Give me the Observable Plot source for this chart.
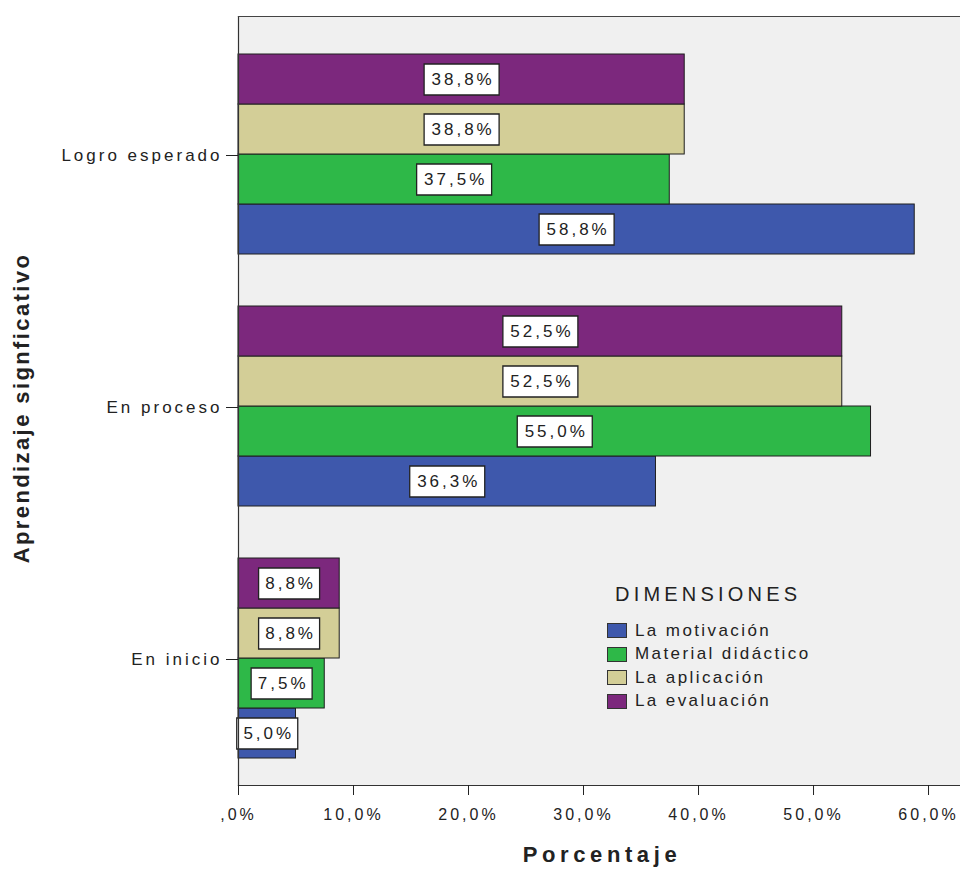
<!DOCTYPE html>
<html>
<head>
<meta charset="utf-8">
<script src="https://cdn.jsdelivr.net/npm/d3@7"></script>
<script src="https://cdn.jsdelivr.net/npm/@observablehq/plot@0.6"></script>
<style>
  html, body { margin: 0; padding: 0; background: #fff; overflow: hidden; }
  #wrap { position: relative; width: 960px; height: 870px; font-family: "Liberation Sans", Arial, sans-serif; color: #222; }
  #wrap svg text { letter-spacing: 3px; }
  .ytitle { position: absolute; left: 22px; top: 408px; transform: translate(-50%, -50%) rotate(-90deg); font-weight: bold; font-size: 22px; letter-spacing: 2.4px; white-space: nowrap; }
  .xtitle { position: absolute; left: 602px; top: 842px; transform: translateX(-50%); font-weight: bold; font-size: 22px; letter-spacing: 4.6px; white-space: nowrap; }
  .legend { position: absolute; left: 607px; top: 579px; }
  .legend .ttl { font-size: 20px; letter-spacing: 4.2px; margin-left: 8px; line-height: 30px; margin-bottom: 10px; }
  .legend .row { display: flex; align-items: center; height: 23.5px; font-size: 17px; letter-spacing: 2.4px; }
  .legend .sw { width: 18px; height: 13px; border: 1.5px solid #333; margin-right: 8px; }
</style>
</head>
<body>
<div id="wrap"></div>
<script>
const categories = ["Logro esperado", "En proceso", "En inicio"];
const dimensions = ["La motivación", "Material didáctico", "La aplicación", "La evaluación"];
const colors = ["#3E58AC", "#2EB848", "#D3CE97", "#7C287D"];
const motivacion = [58.8, 36.3, 5.0];
const material = [37.5, 55.0, 7.5];
const aplicacion = [38.8, 52.5, 8.8];
const evaluacion = [38.8, 52.5, 8.8];
const xTicks = [0, 10, 20, 30, 40, 50, 60];
const xTitle = "Porcentaje";
const yTitle = "Aprendizaje signficativo";
const legendTitle = "DIMENSIONES";

const seriesValues = [motivacion, material, aplicacion, evaluacion];
const fmtPct = v => { const s = v.toFixed(1).replace(".", ","); return (s.startsWith("0,") ? s.slice(1) : s) + "%"; };
const data = dimensions.flatMap((dim, i) => categories.map((cat, j) => {
  const v = seriesValues[i][j];
  return {cat, dim, v, label: fmtPct(v)};
}));

// rectangular label box symbol: width taken from the dot's r, fixed height
const labelBox = {
  draw(context, size) {
    const w = Math.sqrt(size / Math.PI);
    context.rect(-w / 2, -15.5, w, 31);
  }
};

const chart = Plot.plot({
  width: 960, height: 870,
  marginTop: 15, marginBottom: 85, marginLeft: 238, marginRight: 0,
  style: {fontFamily: '"Liberation Sans", Arial, sans-serif', fontSize: "17px", color: "#222", background: "white"},
  x: {domain: [0, 62.78], label: null},
  y: {domain: [...dimensions].reverse(), padding: 0, insetTop: 25, insetBottom: 27, axis: null},
  fy: {domain: categories, padding: 0, insetTop: 13, label: null},
  r: {type: "identity"},
  color: {domain: dimensions, range: colors},
  marks: [
    Plot.frame({fill: "#f0f0f0", facet: "super", insetTop: -13}),
    Plot.barX(data, {x: "v", y: "dim", fy: "cat", fill: "dim", stroke: "#1e1e1e", strokeWidth: 1}),
    Plot.dot(data, {x: d => d.v / 2, y: "dim", fy: "cat", symbol: labelBox, r: d => 14 * d.label.length + 5, fill: "white", stroke: "#222", strokeWidth: 1.3}),
    Plot.text(data, {x: d => d.v / 2, y: "dim", fy: "cat", text: "label", fontSize: 17, dx: 1.5, fill: "#222"}),
    Plot.frame({anchor: "left", stroke: "#333", strokeWidth: 1.2, facet: "super", insetTop: -13}),
    Plot.frame({anchor: "top", stroke: "#444", strokeWidth: 1.2, facet: "super", insetTop: -13}),
    Plot.frame({anchor: "bottom", stroke: "#333", strokeWidth: 1.2, facet: "super"}),
    Plot.axisX({ticks: xTicks, tickFormat: fmtPct, tickSize: 10, tickPadding: 13, label: null, fontSize: 16}),
    Plot.axisFy({anchor: "left", tickSize: 12, tickPadding: 4, label: null, fontSize: 17})
  ]
});

const wrap = document.getElementById("wrap");
wrap.appendChild(chart);

const yt = document.createElement("div"); yt.className = "ytitle"; yt.textContent = yTitle; wrap.appendChild(yt);
const xt = document.createElement("div"); xt.className = "xtitle"; xt.textContent = xTitle; wrap.appendChild(xt);

const lg = document.createElement("div"); lg.className = "legend";
const lt = document.createElement("div"); lt.className = "ttl"; lt.textContent = legendTitle; lg.appendChild(lt);
dimensions.forEach((d, i) => {
  const row = document.createElement("div"); row.className = "row";
  const sw = document.createElement("span"); sw.className = "sw"; sw.style.background = colors[i];
  const tx = document.createElement("span"); tx.textContent = d;
  row.appendChild(sw); row.appendChild(tx); lg.appendChild(row);
});
wrap.appendChild(lg);
</script>
</body>
</html>
